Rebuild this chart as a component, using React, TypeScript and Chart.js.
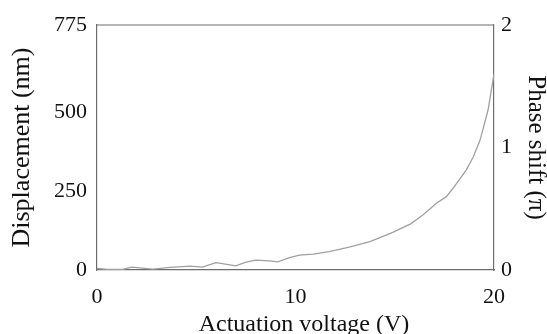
import React, { useEffect, useRef } from "react";
import { Chart, registerables } from "chart.js";

Chart.register(...registerables);

const voltage = [0, 0.5, 1.3, 1.75, 2.8, 3.7, 4.7, 5.3, 6.0, 7.0, 7.5, 8.0, 8.7, 9.1, 9.7, 10.2, 10.9, 11.7, 12.7, 13.75, 14.9, 15.8, 16.4, 17.1, 17.6, 18.0, 18.6, 18.96, 19.3, 19.7, 20];
const displacement = [5, 2, 2, 9, 3, 8, 12, 9, 23, 13, 25, 31, 29, 26, 39, 47, 50, 58, 72, 90, 119, 146, 173, 211, 232, 264, 316, 358, 411, 506, 620];
const leftTicks = [0, 250, 500, 775];
const rightTicks = [0, 1, 2];
const xTicks = [0, 10, 20];
const xTitle = "Actuation voltage (V)";

const FONT = "'Liberation Serif', 'Times New Roman', serif";
const AXIS = "#6e6e6e";
const TICK_SIZE = 22;

const framePlugin = {
  id: "frame",
  afterDraw(chart: any) {
    const { ctx, chartArea: a } = chart;
    ctx.save();
    ctx.strokeStyle = AXIS;
    ctx.lineWidth = 1.2;
    ctx.beginPath();
    ctx.moveTo(a.left, a.top);
    ctx.lineTo(a.right, a.top);
    ctx.stroke();
    ctx.fillStyle = "#111";
    ctx.font = `24px ${FONT}`;
    ctx.textAlign = "center";
    ctx.textBaseline = "alphabetic";
    ctx.fillText(xTitle, (a.left + a.right) / 2 + 8.5, chart.height - 3);
    ctx.restore();
  },
};

export default function App() {
  const ref = useRef<HTMLCanvasElement>(null);
  useEffect(() => {
    if (!ref.current) return;
    const chart = new Chart(ref.current, {
      type: "line",
      data: {
        datasets: [
          {
            data: voltage.map((v, i) => ({ x: v, y: displacement[i] })),
            borderColor: "#a0a0a0",
            borderWidth: 1.3,
            pointRadius: 0,
            tension: 0,
            yAxisID: "y",
          },
        ],
      },
      options: {
        animation: false,
        responsive: false,
        layout: { padding: { top: 25, left: 0, right: 0, bottom: 0 } },
        plugins: { legend: { display: false }, tooltip: { enabled: false } },
        scales: {
          x: {
            type: "linear",
            min: 0,
            max: 20,
            afterBuildTicks: (s: any) => { s.ticks = xTicks.map((v) => ({ value: v })); },
            afterFit: (s: any) => { s.height = 64; },
            grid: { display: true, drawOnChartArea: false, drawTicks: false },
            border: { display: true, color: AXIS, width: 1.2 },
            ticks: { font: { family: FONT, size: TICK_SIZE }, color: "#111", padding: 14, maxRotation: 0 },
            title: { display: false },
          },
          y: {
            position: "left",
            min: 0,
            max: 775,
            afterBuildTicks: (s: any) => { s.ticks = leftTicks.map((v) => ({ value: v })); },
            afterFit: (s: any) => { s.width = 97; },
            grid: { display: true, drawOnChartArea: false, drawTicks: false },
            border: { display: true, color: AXIS, width: 1.2 },
            ticks: { font: { family: FONT, size: TICK_SIZE }, color: "#111", padding: 10 },
            title: { display: true, text: "Displacement (nm)", font: { family: FONT, size: 26 }, color: "#111", padding: 6.8 },
          },
          y2: {
            position: "right",
            min: 0,
            max: 2,
            afterBuildTicks: (s: any) => { s.ticks = rightTicks.map((v) => ({ value: v })); },
            afterFit: (s: any) => { s.width = 53; },
            grid: { display: true, drawOnChartArea: false, drawTicks: false },
            border: { display: true, color: AXIS, width: 1.2 },
            ticks: { font: { family: FONT, size: TICK_SIZE }, color: "#111", padding: 7 },
            title: { display: true, text: "Phase shift (π)", font: { family: FONT, size: 25 }, color: "#111", padding: -3.6 },
          },
        },
      },
      plugins: [framePlugin],
    });
    return () => chart.destroy();
  }, []);
  return (
    <div style={{ width: 547, height: 334, background: "#fff" }}>
      <style>{`body{margin:0}`}</style>
      <canvas ref={ref} width={547} height={334} />
    </div>
  );
}
